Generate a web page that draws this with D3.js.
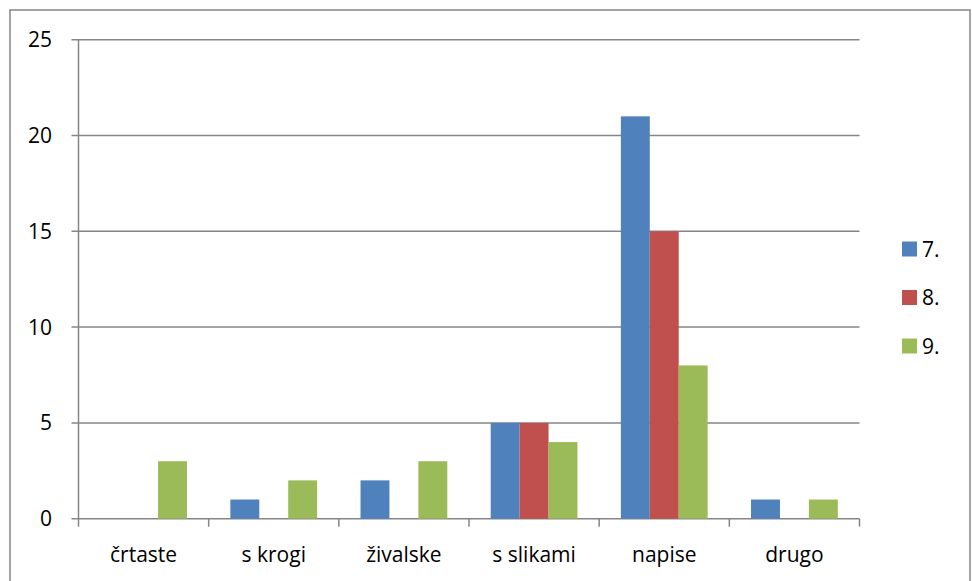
<!DOCTYPE html>
<html><head><meta charset="utf-8">
<script src="https://cdn.jsdelivr.net/npm/d3@7"></script>
<style>body{margin:0;background:#fff}svg{display:block}text{font-family:"Open Sans",Lato,sans-serif;fill:#000}</style>
</head><body><svg id="c" width="972" height="581"></svg>
<script>
const categories = ["črtaste","s krogi","živalske","s slikami","napise","drugo"];
const seriesNames = ["7.","8.","9."];
const s7 = [0,1,2,5,21,1];
const s8 = [0,0,0,5,15,0];
const s9 = [3,2,3,4,8,1];
const colors = ["#4F81BD","#C0504D","#9BBB59"];
const yTicks = [0,5,10,15,20,25];
const series = [s7,s8,s9];

const svg = d3.select("#c");
const H=581;
svg.append("rect").attr("x",10).attr("y",10).attr("width",960).attr("height",H).attr("fill","none").attr("stroke","#868686").attr("stroke-width",1.5);

const x0 = d3.scaleBand().domain(categories).range([78.5,859.5]).paddingInner(0).paddingOuter(0);
const bw = x0.bandwidth();
const x1 = d3.scaleBand().domain(seriesNames).range([0,bw]).paddingInner(0).paddingOuter(0.75);
const y = d3.scaleLinear().domain([0,25]).range([518.7,39.7]);

const g = svg.append("g");
g.selectAll(".grid").data(yTicks).join("line")
 .attr("x1",71.5).attr("x2",859.5).attr("y1",d=>y(d)).attr("y2",d=>y(d))
 .attr("stroke","#868686").attr("stroke-width",1.5);
g.append("line").attr("x1",78.5).attr("x2",78.5).attr("y1",y(25)).attr("y2",y(0)).attr("stroke","#868686").attr("stroke-width",1.5);
g.selectAll(".yl").data(yTicks).join("text").attr("x",52).attr("y",d=>y(d)).attr("dy","0.36em")
 .attr("text-anchor","end").style("font-size","21px").text(d=>d);
const bounds = categories.map(c=>x0(c)).concat([859.5]);
g.selectAll(".xt").data(bounds).join("line").attr("x1",d=>d).attr("x2",d=>d).attr("y1",y(0)).attr("y2",y(0)+8)
 .attr("stroke","#868686").attr("stroke-width",1.5);
series.forEach((s,i)=>{
  g.selectAll(".b"+i).data(s.map((v,j)=>({c:categories[j],v}))).join("rect")
   .attr("x",d=>x0(d.c)+x1(seriesNames[i])).attr("width",x1.bandwidth())
   .attr("y",d=>y(d.v)).attr("height",d=>y(0)-y(d.v)).attr("fill",colors[i]);
});
g.selectAll(".xl").data(categories).join("text").attr("x",d=>x0(d)+bw/2).attr("y",562)
 .attr("text-anchor","middle").style("font-size","21px").text(d=>d);
seriesNames.forEach((n,i)=>{
  const cy = 249+i*48.5;
  svg.append("rect").attr("x",902).attr("y",cy-7.5).attr("width",15).attr("height",15).attr("fill",colors[i]);
  svg.append("text").attr("x",922).attr("y",cy).attr("dy","0.36em").style("font-size","21px").text(n);
});
</script></body></html>
